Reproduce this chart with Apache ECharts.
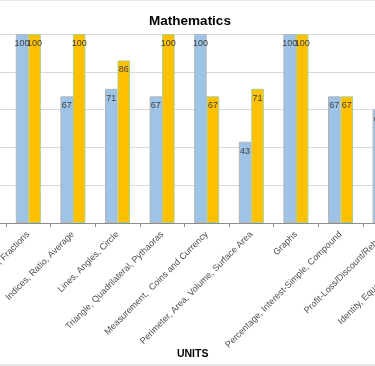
<!DOCTYPE html>
<html>
<head>
<meta charset="utf-8">
<script src="https://cdn.jsdelivr.net/npm/echarts@6/dist/echarts.min.js"></script>
<style>
html,body{margin:0;padding:0;background:#fff;overflow:hidden;width:375px;height:366px;}
#wrap{position:absolute;left:0;top:0;width:375px;height:366px;overflow:hidden;}
#chart{position:absolute;left:-100px;top:0;width:700px;height:366px;}
#frame{position:absolute;left:0;top:0;width:375px;height:366px;box-sizing:border-box;border-top:1px solid #e6e6e6;border-bottom:2px solid #e6e6e6;pointer-events:none;}
</style>
</head>
<body>
<div id="wrap"><div id="chart"></div><div id="frame"></div></div>
<script>
const titleText = "Mathematics";
const axisTitle = "UNITS";
const categories = [
  "",
  "Decimals, Fractions",
  "Indices, Ratio, Average",
  "Lines, Angles, Circle",
  "Triangle, Quadrilateral, Pythaoras",
  "Measurement,  Coins and Currency",
  "Perimeter, Area, Volume, Surface Area",
  "Graphs",
  "Percentage, Interest-Simple, Compound",
  "Profit-Loss/Discount/Rebate",
  "Identity, Equations, Expressions"
];
const seriesA = [null, 100, 67, 71, 67, 100, 43, 100, 67, 60, null];
const seriesB = [null, 100, 100, 86, 100, 67, 71, 100, 67, null, null];
const yTicks = [0, 20, 40, 60, 80, 100];

const chart = echarts.init(document.getElementById('chart'), null, {renderer: 'canvas'});
const font = "'Liberation Sans', Arial, sans-serif";
const labelStyle = {
  show: true, position: 'insideTop', distance: 5,
  color: '#404040', fontSize: 9, fontFamily: font
};
chart.setOption({
  animation: false,
  backgroundColor: '#ffffff',
  title: {
    text: titleText, left: 285, top: 9, textAlign: 'center',
    textStyle: {fontFamily: font, fontSize: 13.5, fontWeight: 'bold', color: '#000'}
  },
  grid: {left: 61.4, width: 490.6, top: 34, bottom: 143, containLabel: false, outerBoundsMode: 'none'},
  xAxis: {
    type: 'category', data: categories,
    axisLine: {lineStyle: {color: '#8c8c8c', width: 1}},
    axisTick: {show: true, length: 4, lineStyle: {color: '#8c8c8c'}},
    axisLabel: {rotate: 45, interval: 0, fontSize: 9, color: '#4d4d4d', fontFamily: font, margin: 10},
    name: axisTitle, nameLocation: 'middle', nameGap: 126, nameMoveOverlap: false,
    nameTextStyle: {fontFamily: font, fontSize: 10.5, fontWeight: 'bold', color: '#000', padding: [0, 28, 0, 0]}
  },
  yAxis: {
    type: 'value', min: 0, max: 100, interval: 20,
    axisLabel: {show: true, formatter: v => yTicks.includes(v) ? String(v) : '', fontSize: 9, color: '#595959'},
    axisLine: {show: false}, axisTick: {show: false},
    splitLine: {lineStyle: {color: '#d9d9d9', width: 1}}
  },
  series: [
    {
      type: 'bar', data: seriesA, barWidth: 12.5, barGap: '0%',
      itemStyle: {color: '#9dc3e6', borderColor: '#b4b4b4', borderWidth: 1},
      label: labelStyle
    },
    {
      type: 'bar', data: seriesB, barWidth: 12.5, barGap: '0%',
      itemStyle: {color: '#ffc000', borderColor: '#a9d18e', borderWidth: 1},
      label: labelStyle
    }
  ]
});
</script>
</body>
</html>
